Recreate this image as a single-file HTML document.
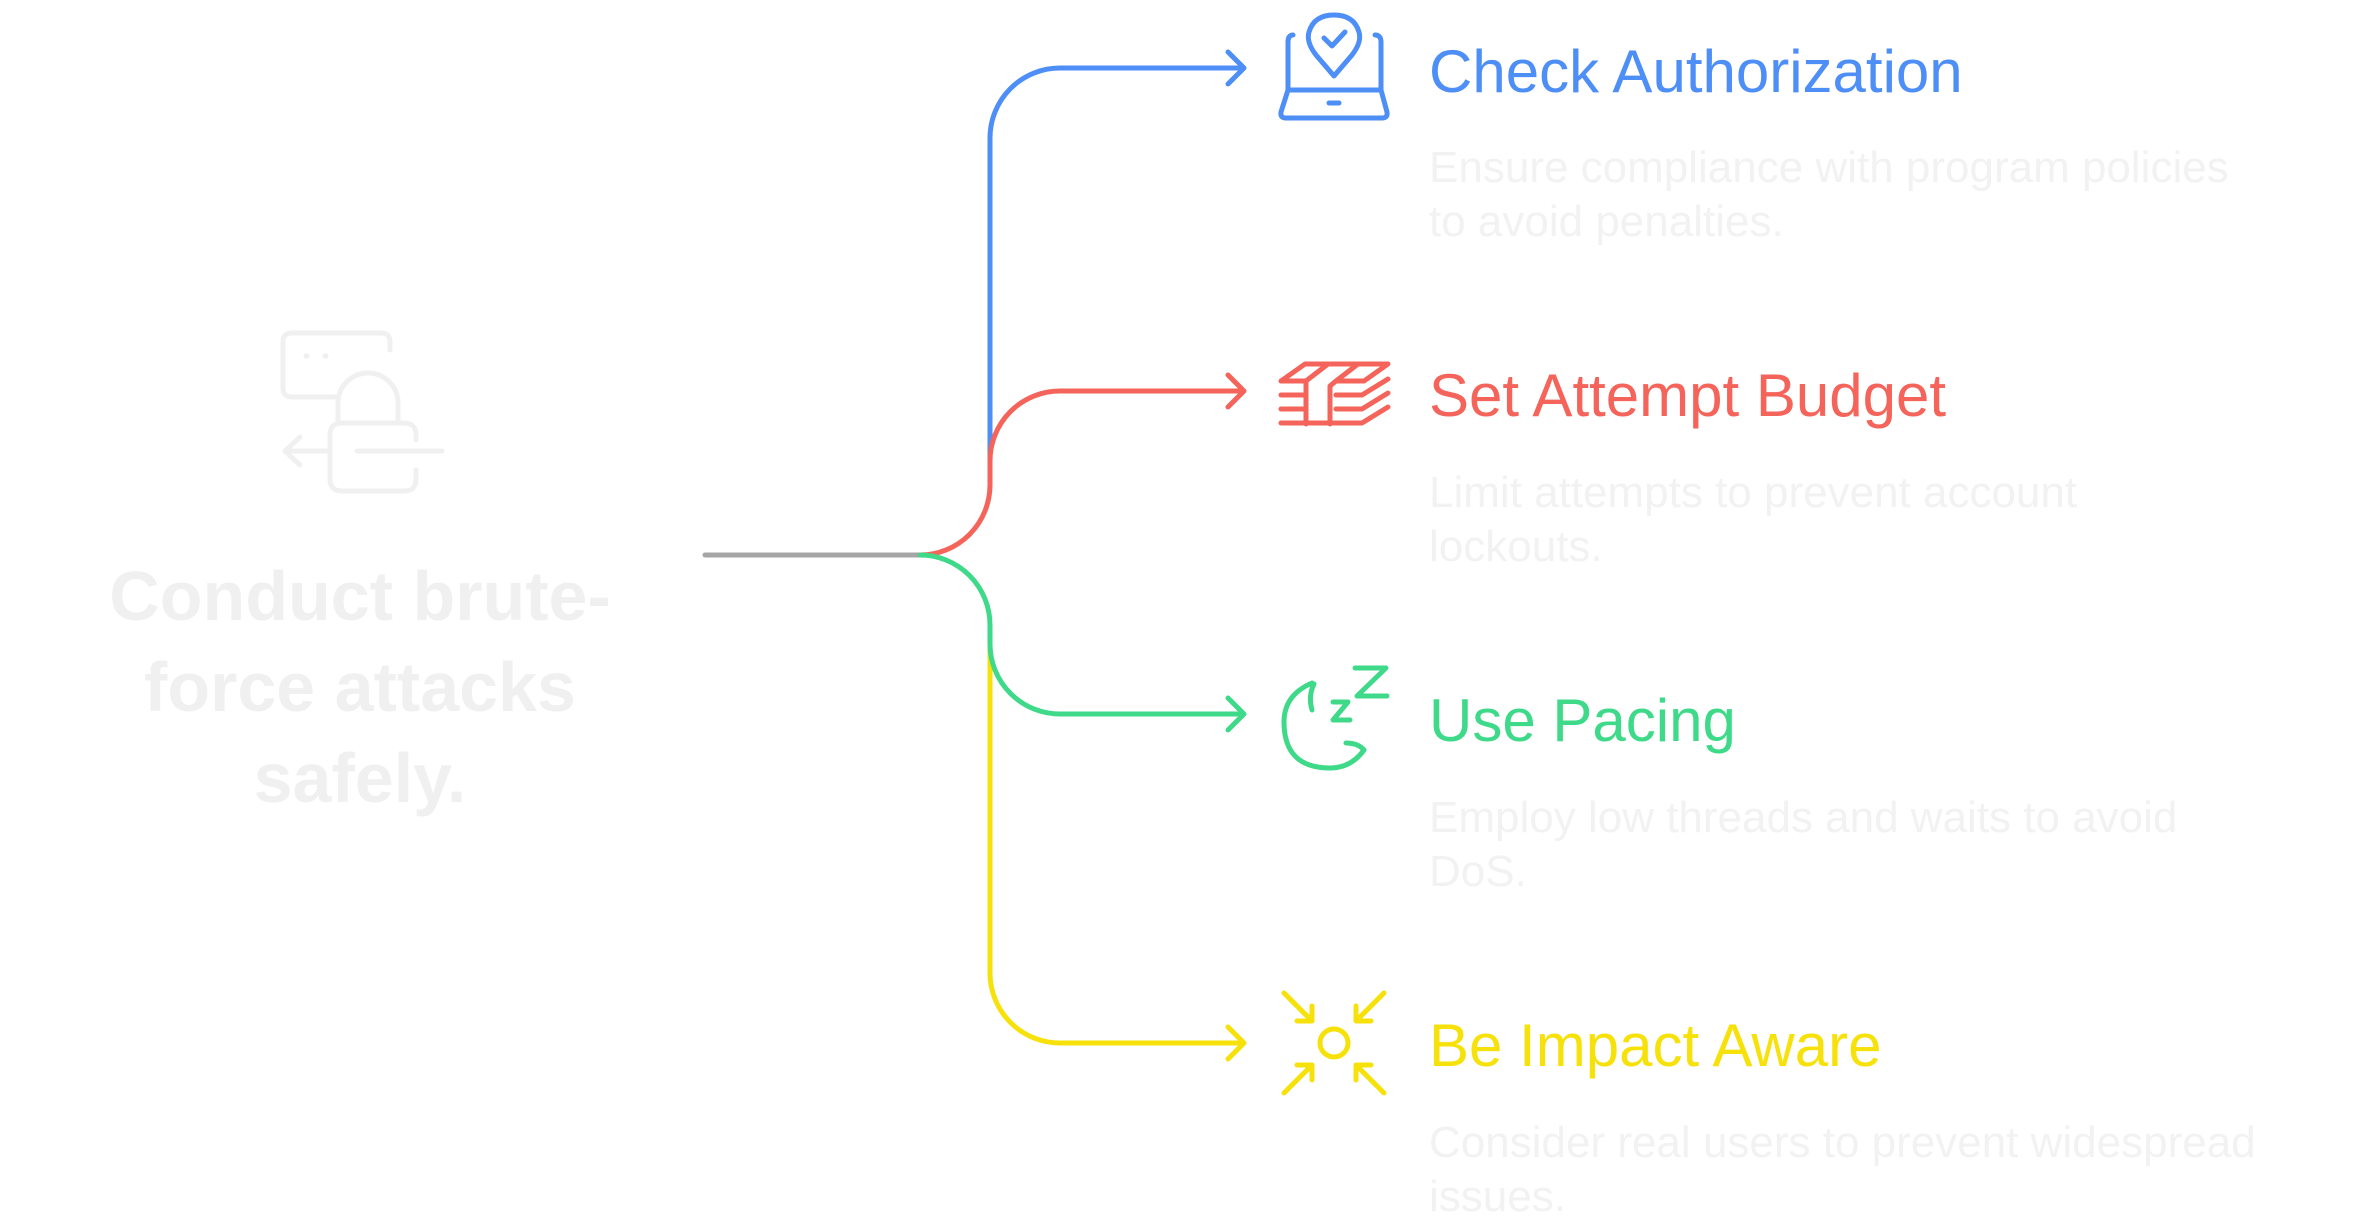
<!DOCTYPE html>
<html><head><meta charset="utf-8"><style>
html,body{margin:0;padding:0;background:#fff;}
svg{display:block}
text{font-family:"Liberation Sans",sans-serif}
</style></head><body>
<svg width="2358" height="1227" viewBox="0 0 2358 1227" xmlns="http://www.w3.org/2000/svg">
<g fill="none" stroke-width="5" stroke-linecap="round" stroke-linejoin="round">
<path d="M705 555 H920" stroke="#a6a6a6"/>
<path d="M990 461 V138 A70 70 0 0 1 1060 68 H1244 M1228 52 L1244 68 L1228 84" stroke="#4e8ef7"/>
<path d="M990 644 V973 A70 70 0 0 0 1060 1043 H1244 M1228 1027 L1244 1043 L1228 1059" stroke="#f7e10a"/>
<path d="M920 555 A70 70 0 0 0 990 485 V461 A70 70 0 0 1 1060 391 H1244 M1228 375 L1244 391 L1228 407" stroke="#f5645a"/>
<path d="M920 555 A70 70 0 0 1 990 625 V644 A70 70 0 0 0 1060 714 H1244 M1228 698 L1244 714 L1228 730" stroke="#3fd98a"/>

<g transform="translate(-4,0)">
<!-- laptop icon -->
<g stroke="#4e8ef7">
<path d="M1297 35 Q1292 35 1292 42 V90 M1379 35 Q1385 35 1385 42 V90 M1292 90 H1385 M1292 90 L1285 112 Q1284 118 1290 118 H1386 Q1392 118 1391 112 L1385 90"/>
<path d="M1333 103 H1343"/>
<path d="M1338 76 L1320 55 Q1310 42 1313 32 Q1318 15 1338 15 Q1358 15 1363 32 Q1366 42 1356 55 Z"/>
<path d="M1328 38 L1336 46 L1349 32"/>
</g>
<!-- money icon -->
<g stroke="#f5645a">
<path d="M1285 381 L1309 364 H1392 L1368 381 H1340 L1334 386 V424 M1310 381 V424 M1285 381 H1310 M1285 395 H1310 M1285 409 H1310 M1285 423 H1366 L1392 407 M1340 395 H1366 L1392 379 M1340 409 H1366 L1392 393 M1340 381 L1362 364 M1310 381 L1332 364"/>
</g>
<!-- sleep icon -->
<g stroke="#3fd98a">
<path d="M1316 683 Q1288 695 1288 722 Q1288 768 1334 768 Q1355 768 1368 750 Q1362 743 1350 743"/>
<path d="M1318 684 Q1312 696 1316 710"/>
<path d="M1359 668 H1390 L1361 696 H1391"/>
<path d="M1337 702 H1352 L1337 720 H1354"/>
</g>
<!-- impact icon -->
<g stroke="#f7e10a">
<circle cx="1338" cy="1043" r="14"/>
<path d="M1288 993 L1316 1021 M1316 1006 V1021 H1301"/>
<path d="M1388 993 L1360 1021 M1360 1006 V1021 H1375"/>
<path d="M1288 1093 L1316 1065 M1301 1065 H1316 V1080"/>
<path d="M1388 1093 L1360 1065 M1375 1065 H1360 V1080"/>
</g>
</g>
<!-- lock icon -->
<g stroke="#f0f0f0" stroke-width="5">
<path d="M335 397 H292 Q283 397 283 388 V342 Q283 333 292 333 H381 Q390 333 390 342 V350"/>
<path d="M338 423 V403 A30 30 0 0 1 398 403 V423"/>
<path d="M416 440 V435 Q416 423 404 423 H342 Q330 423 330 435 V479 Q330 491 342 491 H404 Q416 491 416 479 V470"/>
<path d="M330 451 H286 M300 437 L285 451 L300 465 M357 451 H442"/>
<path d="M306 356 h1 M325 356 h1"/>
</g>
</g>

<g font-size="60">
<text x="1429" y="92" fill="#4e8ef7">Check Authorization</text>
<text x="1429" y="416" fill="#f5645a">Set Attempt Budget</text>
<text x="1429" y="741" fill="#3fd98a">Use Pacing</text>
<text x="1429" y="1066" fill="#f7e10a">Be Impact Aware</text>
</g>
<g font-size="44" fill="#f2f2f2">
<text x="1429" y="182">Ensure compliance with program policies</text>
<text x="1429" y="236">to avoid penalties.</text>
<text x="1429" y="507">Limit attempts to prevent account</text>
<text x="1429" y="561">lockouts.</text>
<text x="1429" y="832">Employ low threads and waits to avoid</text>
<text x="1429" y="886">DoS.</text>
<text x="1429" y="1157">Consider real users to prevent widespread</text>
<text x="1429" y="1211">issues.</text>
</g>
<g font-size="70" font-weight="bold" fill="#f0f0f0" text-anchor="middle">
<text x="360" y="620">Conduct brute-</text>
<text x="360" y="711">force attacks</text>
<text x="360" y="802">safely.</text>
</g>
</svg>
</body></html>
